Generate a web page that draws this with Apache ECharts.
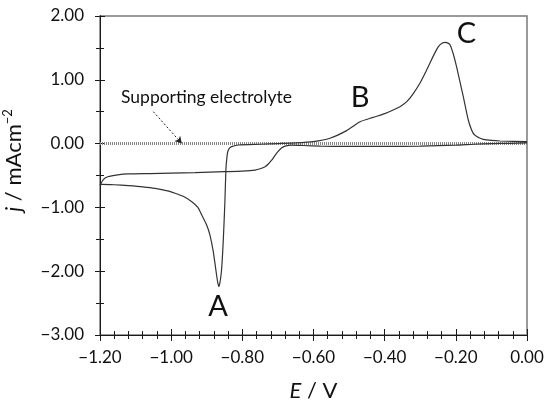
<!DOCTYPE html>
<html>
<head>
<meta charset="utf-8">
<script src="https://cdn.jsdelivr.net/npm/echarts@6/dist/echarts.min.js"></script>
<style>
  html, body { margin: 0; padding: 0; background: #fff; }
  #chart { width: 550px; height: 404px; }
</style>
</head>
<body>
<div id="chart"></div>
<script>
// E (V) vs j (mA cm-2) in scan order.
// Cathodic sweep: 0.00 V down to -1.20 V
const cathodicSweep = [
  [0.00, 0.01], [-0.05, 0.005], [-0.10, 0.0], [-0.15, -0.01], [-0.20, -0.025],
  [-0.30, -0.04], [-0.40, -0.045], [-0.50, -0.045], [-0.58, -0.04], [-0.63, -0.03],
  [-0.66, -0.025], [-0.68, -0.04], [-0.69, -0.07], [-0.70, -0.127], [-0.71, -0.2],
  [-0.717, -0.257], [-0.727, -0.32], [-0.736, -0.362], [-0.75, -0.395], [-0.764, -0.415],
  [-0.80, -0.43], [-0.85, -0.44], [-0.933, -0.456], [-1.00, -0.463], [-1.06, -0.47],
  [-1.121, -0.476], [-1.15, -0.49], [-1.178, -0.519], [-1.19, -0.56], [-1.20, -0.65]
];
// Reverse sweep: -1.20 V back to 0.00 V (peak A, then B and C)
const anodicSweep = [
  [-1.195, -0.638], [-1.16, -0.645], [-1.12, -0.66], [-1.08, -0.678], [-1.045, -0.701],
  [-1.01, -0.74], [-0.989, -0.779], [-0.965, -0.83], [-0.942, -0.91], [-0.925, -1.0],
  [-0.914, -1.119], [-0.90, -1.28], [-0.891, -1.433], [-0.882, -1.68], [-0.875, -1.955],
  [-0.870, -2.15], [-0.866, -2.243], [-0.862, -2.15], [-0.858, -1.955], [-0.853, -1.45],
  [-0.849, -0.91], [-0.846, -0.388], [-0.843, -0.2], [-0.841, -0.127], [-0.836, -0.07],
  [-0.830, -0.048], [-0.811, -0.022], [-0.75, -0.01], [-0.70, 0.0], [-0.65, 0.01],
  [-0.601, 0.03], [-0.554, 0.083], [-0.507, 0.203], [-0.469, 0.343], [-0.432, 0.412],
  [-0.40, 0.47], [-0.376, 0.527], [-0.355, 0.585], [-0.338, 0.657], [-0.32, 0.78],
  [-0.301, 0.945], [-0.285, 1.12], [-0.273, 1.259], [-0.26, 1.41], [-0.249, 1.519],
  [-0.238, 1.575], [-0.230, 1.588], [-0.222, 1.575], [-0.216, 1.545], [-0.207, 1.40],
  [-0.198, 1.205], [-0.188, 0.96], [-0.179, 0.735], [-0.165, 0.37], [-0.151, 0.161],
  [-0.135, 0.09], [-0.123, 0.067], [-0.10, 0.05], [-0.076, 0.041], [0.00, 0.03]
];
// Blank (supporting electrolyte) scan, flat at zero
const electrolyte = [[-1.20, 0.0], [-0.60, 0.0], [0.00, 0.0]];

// Peak letters and where they sit
const peakLabels = [
  { name: 'A', coord: [-0.868, -2.56] },
  { name: 'B', coord: [-0.469, 0.72] },
  { name: 'C', coord: [-0.170, 1.73] }
];
// Arrow from the caption to the blank line
const arrowFrom = [-1.05, 0.50];
const arrowTo = [-0.970, 0.0];

const xTicks = { min: -1.2, max: 0, interval: 0.2 };
const yTicks = { min: -3, max: 2, interval: 1 };

const fontFamily = 'Lato, "Noto Sans", sans-serif';
const fmt = (v) => (v < -1e-9 ? '\u2212' : '') + Math.abs(v).toFixed(2);

const chart = echarts.init(document.getElementById('chart'), null, { renderer: 'canvas' });

// Two copies of each axis: one with outward ticks + labels, one with inward ticks,
// so ticks straddle the axis line like in the original.
const baseX = {
  type: 'value', position: 'bottom', min: xTicks.min, max: xTicks.max, interval: xTicks.interval,
  splitLine: { show: false },
  axisLine: { show: true, onZero: false, lineStyle: { color: '#1a1a1a', width: 1 } },
  minorTick: { show: true, splitNumber: 5, length: 4, lineStyle: { color: '#1a1a1a' } }
};
const baseY = {
  type: 'value', position: 'left', min: yTicks.min, max: yTicks.max, interval: yTicks.interval,
  splitLine: { show: false },
  axisLine: { show: true, onZero: false, lineStyle: { color: '#1a1a1a', width: 1 } },
  minorTick: { show: true, splitNumber: 2, length: 4, lineStyle: { color: '#1a1a1a' } }
};

chart.setOption({
  animation: false,
  backgroundColor: '#fff',
  grid: {
    left: 100, right: 23, top: 16, bottom: 69,
    containLabel: false, outerBoundsMode: 'none',
    show: true, borderColor: '#7a7a7a', borderWidth: 1.5
  },
  xAxis: [
    Object.assign({}, baseX, {
      axisTick: { show: true, inside: false, length: 6, lineStyle: { color: '#1a1a1a' } },
      axisLabel: { formatter: fmt, fontFamily, fontSize: 17, color: '#111', margin: 14 },
      name: '{i|E} / V', nameLocation: 'middle', nameGap: 45,
      nameTextStyle: {
        fontFamily, fontSize: 22, color: '#111',
        rich: { i: { fontFamily, fontSize: 22, fontStyle: 'italic', color: '#111' } }
      }
    }),
    Object.assign({}, baseX, {
      axisTick: { show: true, inside: true, length: 6, lineStyle: { color: '#1a1a1a' } },
      axisLabel: { show: false }
    })
  ],
  yAxis: [
    Object.assign({}, baseY, {
      axisTick: { show: true, inside: false, length: 5, lineStyle: { color: '#1a1a1a' } },
      axisLabel: { formatter: fmt, fontFamily, fontSize: 17, color: '#111', margin: 16 },
      name: '{i|j} / mAcm{s|\u22122}', nameLocation: 'middle', nameGap: 74, nameRotate: 90,
      nameTextStyle: {
        fontFamily, fontSize: 22, color: '#111', padding: [0, 0, 0, 30],
        rich: {
          i: { fontFamily, fontSize: 22, fontStyle: 'italic', color: '#111' },
          s: { fontFamily, fontSize: 13, color: '#111', verticalAlign: 'top', padding: [0, 0, 12, 0] }
        }
      }
    }),
    Object.assign({}, baseY, {
      axisTick: { show: true, inside: true, length: 5, lineStyle: { color: '#1a1a1a' } },
      axisLabel: { show: false }
    })
  ],
  series: [
    {
      name: 'Supporting electrolyte', type: 'line', data: electrolyte,
      showSymbol: false, silent: true, z: 1,
      lineStyle: { color: '#888888', width: 3, type: [1, 1] },
      markLine: {
        silent: true, symbol: ['none', 'arrow'], symbolSize: [6, 7],
        label: { show: false },
        lineStyle: { color: '#222', width: 1, type: [2, 2] },
        data: [[{ coord: arrowFrom }, { coord: arrowTo }]]
      }
    },
    {
      name: 'CV', type: 'line', data: cathodicSweep.concat(anodicSweep),
      showSymbol: false, smooth: 0.2, z: 3,
      lineStyle: { color: '#333', width: 1.2 },
      markPoint: {
        symbol: 'circle', symbolSize: 1, itemStyle: { color: 'rgba(0,0,0,0)' },
        label: {
          show: true, position: 'inside', formatter: '{b}',
          fontFamily, fontSize: 29, color: '#111'
        },
        data: peakLabels.map((p) => ({ name: p.name, coord: p.coord }))
      }
    }
  ],
  graphic: [
    {
      type: 'text', left: 121, top: 88,
      style: { text: 'Supporting electrolyte', fontFamily, fontSize: 17.5, fill: '#111' }
    }
  ]
});
</script>
</body>
</html>
